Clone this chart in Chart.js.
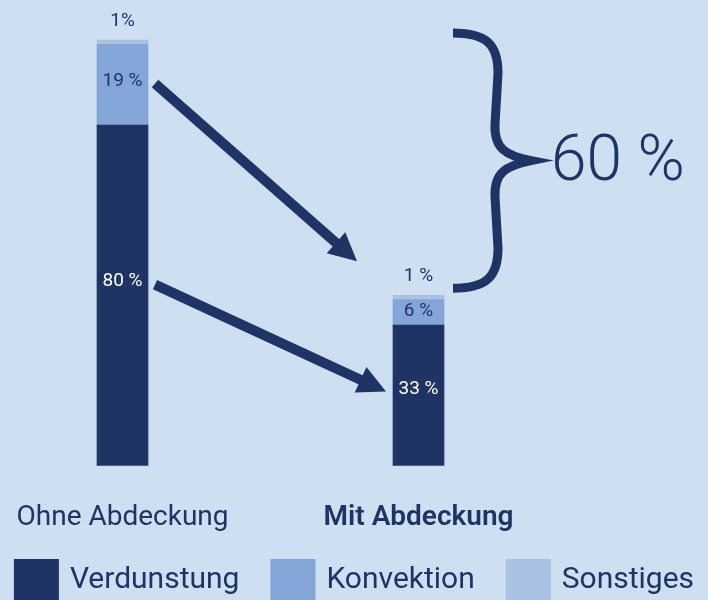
<!DOCTYPE html>
<html>
<head>
<meta charset="utf-8">
<script src="https://cdn.jsdelivr.net/npm/chart.js@4.4.1/dist/chart.umd.min.js"></script>
<style>
  html, body { margin: 0; padding: 0; background: #cddff0; }
  canvas { display: block; }
</style>
</head>
<body>
<canvas id="chart" width="708" height="600"></canvas>
<script>
const categories = ['Ohne Abdeckung', 'Mit Abdeckung'];
const verdunstung = [80, 33];
const konvektion = [19, 6];
const sonstiges = [1, 1];
const verdunstungLabels = ['80 %', '33 %'];
const konvektionLabels = ['19 %', '6 %'];
const sonstigesLabels = ['1%', '1 %'];
const reductionLabel = '60 %';

const NAVY = '#1f3464';
const MID = '#84a5d7';
const LIGHT = '#a9c1e3';
const BG = '#cddff0';
const FONT = 'Roboto, "Open Sans", sans-serif';

const backgroundPlugin = {
  id: 'background',
  beforeDraw(chart) {
    const ctx = chart.ctx;
    ctx.save();
    ctx.fillStyle = BG;
    ctx.fillRect(0, 0, chart.width, chart.height);
    ctx.restore();
  }
};

// y position for the text inside a segment, a bit above the middle
const segLabelY = (el) => (el.y + el.base) / 2 - 0.04 * (el.base - el.y);

function drawArrow(ctx, x1, y1, x2, y2) {
  const a = Math.atan2(y2 - y1, x2 - x1);
  const headLen = 28, headHalf = 14;
  const bx = x2 - headLen * Math.cos(a);
  const by = y2 - headLen * Math.sin(a);
  ctx.lineWidth = 10;
  ctx.lineCap = 'butt';
  ctx.beginPath();
  ctx.moveTo(x1, y1);
  ctx.lineTo(bx + Math.cos(a), by + Math.sin(a));
  ctx.stroke();
  ctx.beginPath();
  ctx.moveTo(x2, y2);
  ctx.lineTo(bx + headHalf * Math.sin(a), by - headHalf * Math.cos(a));
  ctx.lineTo(bx - headHalf * Math.sin(a), by + headHalf * Math.cos(a));
  ctx.closePath();
  ctx.fill();
}

function drawBrace(ctx, x0, yTop, yBot) {
  const yMid = (yTop + yBot) / 2;
  const xm = x0 + 45;
  const xt = x0 + 78;
  ctx.lineWidth = 9;
  ctx.lineJoin = 'miter';
  ctx.miterLimit = 10;
  ctx.lineCap = 'butt';
  ctx.beginPath();
  ctx.moveTo(x0, yTop);
  ctx.bezierCurveTo(x0 + 34, yTop, xm, yTop + 12, xm, yTop + 40);
  ctx.lineTo(xm - 3, yMid - 36);
  ctx.bezierCurveTo(xm - 4, yMid - 12, xm + 8, yMid - 5, xt, yMid);
  ctx.bezierCurveTo(xm + 8, yMid + 5, xm - 4, yMid + 12, xm - 3, yMid + 36);
  ctx.lineTo(xm, yBot - 40);
  ctx.bezierCurveTo(xm, yBot - 12, x0 + 34, yBot, x0, yBot);
  ctx.stroke();
}

const annotationPlugin = {
  id: 'annotations',
  afterDatasetsDraw(chart) {
    const ctx = chart.ctx;
    const m0 = chart.getDatasetMeta(0).data;
    const m1 = chart.getDatasetMeta(1).data;
    const m2 = chart.getDatasetMeta(2).data;
    ctx.save();
    ctx.textAlign = 'center';
    ctx.textBaseline = 'middle';
    ctx.font = '19px ' + FONT;

    m0.forEach((el, i) => {
      ctx.fillStyle = '#ffffff';
      ctx.fillText(verdunstungLabels[i], el.x, segLabelY(el));
    });
    m1.forEach((el, i) => {
      ctx.fillStyle = NAVY;
      ctx.fillText(konvektionLabels[i], el.x, segLabelY(el));
    });
    m2.forEach((el, i) => {
      ctx.fillStyle = NAVY;
      ctx.fillText(sonstigesLabels[i], el.x, el.y - 19);
    });

    // arrows from the first bar to the second
    const half = m0[0].width / 2;
    ctx.strokeStyle = NAVY;
    ctx.fillStyle = NAVY;
    drawArrow(ctx, m1[0].x + half + 7, segLabelY(m1[0]) + 2,
      m2[1].x - half - 36, m2[1].y - 34);
    drawArrow(ctx, m0[0].x + half + 7, segLabelY(m0[0]) + 3,
      m0[1].x - half - 7, segLabelY(m0[1]) + 2);

    // brace between both totals
    const bx = m2[1].x + half + 9;
    const yTop = m2[0].y - 7;
    const yBot = m2[1].y - 7;
    drawBrace(ctx, bx, yTop, yBot);

    ctx.fillStyle = NAVY;
    ctx.textAlign = 'left';
    ctx.font = '300 64px ' + FONT;
    ctx.fillText(reductionLabel, bx + 98, (yTop + yBot) / 2 + 3);
    ctx.restore();
  }
};

// legend row drawn below the axis, spaced like the original
const legendPlugin = {
  id: 'wideLegend',
  afterDraw(chart) {
    const ctx = chart.ctx;
    const boxW = 45, boxH = 42, gap = 31, textGap = 11;
    const top = 559;
    ctx.save();
    ctx.font = '30px ' + FONT;
    ctx.textBaseline = 'middle';
    ctx.textAlign = 'left';
    const items = chart.data.datasets.map(ds => ({
      text: ds.label,
      color: ds.backgroundColor,
      w: boxW + textGap + ctx.measureText(ds.label).width
    }));
    const total = items.reduce((s, it) => s + it.w, 0) + gap * (items.length - 1);
    let x = (chart.width - total) / 2;
    items.forEach(it => {
      ctx.fillStyle = it.color;
      ctx.fillRect(x, top, boxW, boxH);
      ctx.fillStyle = NAVY;
      ctx.fillText(it.text, x + boxW + textGap, top + boxH / 2);
      x += it.w + gap;
    });
    ctx.restore();
  }
};

new Chart(document.getElementById('chart'), {
  type: 'bar',
  data: {
    labels: categories,
    datasets: [
      { label: 'Verdunstung', data: verdunstung, backgroundColor: NAVY },
      { label: 'Konvektion', data: konvektion, backgroundColor: MID },
      { label: 'Sonstiges', data: sonstiges, backgroundColor: LIGHT }
    ]
  },
  options: {
    responsive: false,
    animation: false,
    datasets: {
      bar: { barThickness: 51, borderWidth: 0, clip: false }
    },
    layout: { padding: { top: 40, left: 0, right: 0, bottom: 63 } },
    scales: {
      x: {
        stacked: true,
        offset: false,
        grid: { display: false, drawTicks: true, tickLength: 34 },
        border: { display: false },
        ticks: {
          color: NAVY,
          padding: 2,
          maxRotation: 0,
          font: (c) => ({ family: FONT, size: 28, weight: c.index === 1 ? '600' : 'normal' })
        }
      },
      y: {
        stacked: true,
        min: 0,
        max: 100,
        position: 'left',
        grid: { display: false, drawTicks: false },
        border: { display: false },
        ticks: { display: false },
        afterFit: (s) => { s.width = 122.5; }
      },
      yRight: {
        position: 'right',
        min: 0,
        max: 100,
        grid: { display: false, drawTicks: false },
        border: { display: false },
        ticks: { display: false },
        afterFit: (s) => { s.width = 289.5; }
      }
    },
    plugins: {
      tooltip: { enabled: false },
      legend: { display: false }
    }
  },
  plugins: [backgroundPlugin, annotationPlugin, legendPlugin]
});
</script>
</body>
</html>
